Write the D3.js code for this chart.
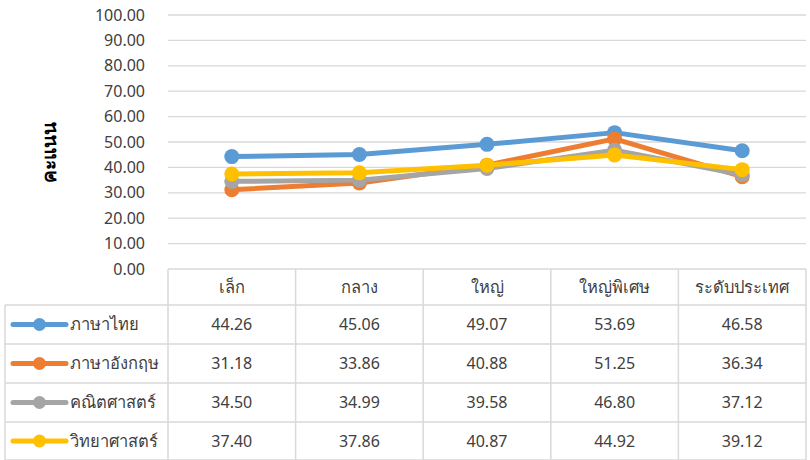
<!DOCTYPE html>
<html>
<head>
<meta charset="utf-8">
<script src="https://cdn.jsdelivr.net/npm/d3@7"></script>
<style>
  body { margin: 0; background: #fff; }
  text { font-family: "Leelawadee UI", Tahoma, "Noto Sans", "DejaVu Sans", sans-serif; fill: #404040; }
</style>
</head>
<body>
<div id="chart"></div>
<script>
const categories = ['เล็ก', 'กลาง', 'ใหญ่', 'ใหญ่พิเศษ', 'ระดับประเทศ'];
const seriesNames = ['ภาษาไทย', 'ภาษาอังกฤษ', 'คณิตศาสตร์', 'วิทยาศาสตร์'];
const seriesColors = ['#5B9BD5', '#ED7D31', '#A5A5A5', '#FFC000'];
const thai = [44.26, 45.06, 49.07, 53.69, 46.58];
const english = [31.18, 33.86, 40.88, 51.25, 36.34];
const math = [34.50, 34.99, 39.58, 46.80, 37.12];
const science = [37.40, 37.86, 40.87, 44.92, 39.12];
const yTicks = [0, 10, 20, 30, 40, 50, 60, 70, 80, 90, 100];

const series = [thai, english, math, science].map((values, i) => ({
  name: seriesNames[i], color: seriesColors[i], values
}));

const W = 810, H = 460;
const plotLeft = 168, plotRight = 806, plotTop = 15, plotBottom = 269;
const rowTops = [305, 344, 383, 422, 460];
const legendLeft = 5;
const numSize = '16px', thaiSize = '16.5px';

const svg = d3.select('#chart').append('svg')
  .attr('width', W).attr('height', H);

const x = d3.scaleBand().domain(categories).range([plotLeft, plotRight]);
const y = d3.scaleLinear().domain([0, 100]).range([plotBottom, plotTop]);
const cx = (j) => x(categories[j]) + x.bandwidth() / 2;

// gridlines
svg.append('g').selectAll('line').data(yTicks.filter(d => d > 0)).join('line')
  .attr('x1', plotLeft).attr('x2', plotRight)
  .attr('y1', d => y(d)).attr('y2', d => y(d))
  .attr('stroke', '#d9d9d9').attr('stroke-width', 1.3);

// y axis labels
svg.append('g').selectAll('text').data(yTicks).join('text')
  .attr('x', 145).attr('y', d => y(d))
  .attr('dy', '0.35em')
  .attr('text-anchor', 'end')
  .style('font-size', numSize)
  .text(d => d.toFixed(2));

// y axis title
svg.append('text')
  .attr('transform', 'translate(49,152) rotate(-90)')
  .attr('text-anchor', 'middle')
  .attr('dy', '0.35em')
  .style('font-size', '19px').style('font-weight', 'bold')
  .style('fill', '#000')
  .text('คะแนน');

// table grid
const grid = svg.append('g').attr('stroke', '#d9d9d9').attr('stroke-width', 1.5);
grid.append('line').attr('x1', plotLeft).attr('x2', plotRight).attr('y1', plotBottom).attr('y2', plotBottom);
rowTops.forEach(ry => {
  grid.append('line').attr('x1', legendLeft).attr('x2', plotRight).attr('y1', ry).attr('y2', ry);
});
grid.append('line').attr('x1', legendLeft).attr('x2', legendLeft).attr('y1', rowTops[0]).attr('y2', H);
categories.forEach(c => {
  grid.append('line').attr('x1', x(c)).attr('x2', x(c)).attr('y1', plotBottom).attr('y2', H);
});
grid.append('line').attr('x1', plotRight).attr('x2', plotRight).attr('y1', plotBottom).attr('y2', H);

// category header
svg.append('g').selectAll('text').data(categories).join('text')
  .attr('x', (d, j) => cx(j))
  .attr('y', (plotBottom + rowTops[0]) / 2)
  .attr('dy', '0.35em')
  .attr('text-anchor', 'middle')
  .style('font-size', thaiSize)
  .text(d => d);

// table values and legend
series.forEach((s, i) => {
  const cy = (rowTops[i] + rowTops[i + 1]) / 2;
  const row = svg.append('g');
  row.selectAll('text.val').data(s.values).join('text')
    .attr('class', 'val')
    .attr('x', (d, j) => cx(j))
    .attr('y', cy).attr('dy', '0.35em')
    .attr('text-anchor', 'middle')
    .style('font-size', numSize)
    .text(d => d.toFixed(2));
  row.append('line')
    .attr('x1', 13).attr('x2', 66).attr('y1', cy).attr('y2', cy)
    .attr('stroke', s.color).attr('stroke-width', 5).attr('stroke-linecap', 'round');
  row.append('circle').attr('cx', 39.5).attr('cy', cy).attr('r', 6.5).attr('fill', s.color);
  row.append('text')
    .attr('x', 70).attr('y', cy).attr('dy', '0.35em')
    .style('font-size', thaiSize)
    .text(s.name);
});

// lines and markers
const line = d3.line()
  .x((d, j) => cx(j))
  .y(d => y(d));

series.forEach(s => {
  const g = svg.append('g');
  g.append('path').datum(s.values)
    .attr('d', line)
    .attr('fill', 'none')
    .attr('stroke', s.color).attr('stroke-width', 5)
    .attr('stroke-linejoin', 'round');
  g.selectAll('circle').data(s.values).join('circle')
    .attr('cx', (d, j) => cx(j))
    .attr('cy', d => y(d))
    .attr('r', 7.5)
    .attr('fill', s.color);
});
</script>
</body>
</html>
